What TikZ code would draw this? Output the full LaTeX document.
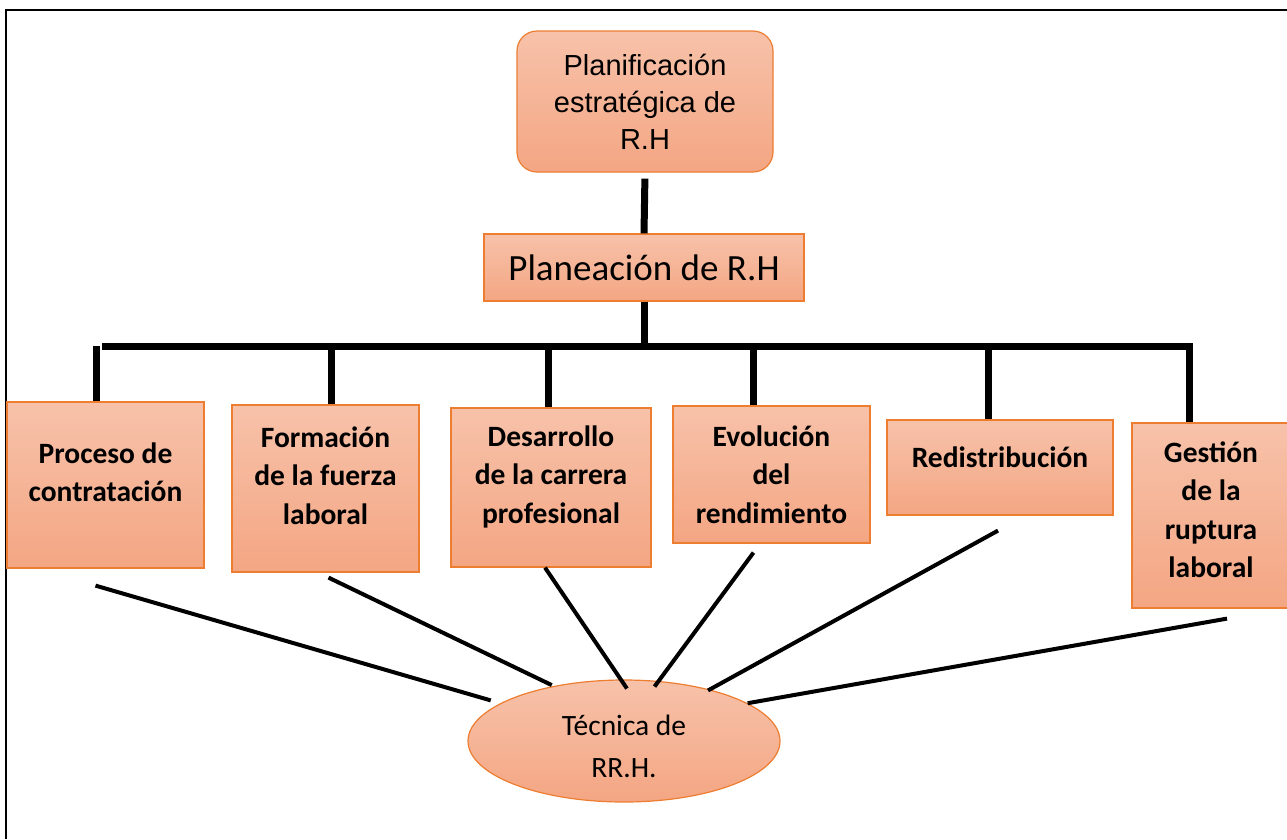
\documentclass[tikz,border=0pt]{standalone}
\usepackage{fontspec}
\setmainfont{Carlito}
\newfontfamily\arial{Liberation Sans}
\usetikzlibrary{shapes.geometric}
\definecolor{naranjaBorde}{RGB}{237,125,49}
\definecolor{naranjaClaro}{RGB}{247,194,170}
\definecolor{naranjaOscuro}{RGB}{244,166,131}
\begin{document}
\begin{tikzpicture}[x=1pt, y=-1pt, line join=miter,
	caja/.style={draw=naranjaBorde, line width=1.2pt, top color=naranjaClaro, bottom color=naranjaOscuro, align=center, inner sep=0pt},
	textoCaja/.style={font=\fontsize{29.5}{38.5}\selectfont\bfseries},
	subir/.style={text depth=#1},
	grueso/.style={line width=7pt},
	fino/.style={line width=4pt}]

	\useasboundingbox (0,0) rectangle (1287,839);
	% marco
	\draw[line width=2pt] (6,839) -- (6,10) -- (1287,10);

	% niveles superiores
	\node[caja, rounded corners=20pt, minimum width=256, minimum height=141, font=\arial\fontsize{29}{37}\selectfont] (planif) at (645,101.5) {Planificación\\estratégica de\\R.H};
	\node[caja, minimum width=320, minimum height=67, font=\fontsize{37}{40}\selectfont] (planea) at (644,267.5) {Planeación de R.H};
	\draw[grueso, shorten <=6pt] (planif.south) -- (planea.north);

	\coordinate (barraIzq) at (102,346);
	\coordinate (barraDer) at (1193,346);
	\draw[grueso] (barraIzq) -- (barraDer);
	\draw[grueso] (planea.south) -- (planea.south |- barraIzq);

	% procesos
	\node[caja, textoCaja, subir=26pt, minimum width=197, minimum height=166] (b1) at (105.5,485) {Proceso de\\contratación};
	\node[caja, textoCaja, subir=26pt, minimum width=187, minimum height=167] (b2) at (325.5,488.5) {Formación\\de la fuerza\\laboral};
	\node[caja, textoCaja, subir=26pt, minimum width=200, minimum height=159] (b3) at (551,487.5) {Desarrollo\\de la carrera\\profesional};
	\node[caja, textoCaja, minimum width=197, minimum height=137] (b4) at (771.5,474.5) {Evolución\\del\\rendimiento};
	\node[caja, textoCaja, subir=20pt, minimum width=226, minimum height=95] (b5) at (1000,467.5) {Redistribución};
	\node[caja, textoCaja, subir=12pt, minimum width=158, minimum height=185] (b6) at (1211,515.5) {Gestión\\de la\\ruptura\\laboral};

	\foreach \caja/\dx in {b1/-9, b2/6, b3/-3, b4/-18, b5/-12, b6/-22}
		\draw[grueso] ([xshift=\dx pt]\caja.north |- barraIzq) -- ([xshift=\dx pt]\caja.north);

	% tecnica
	\node[caja, ellipse, text height=74pt, minimum width=312, minimum height=122, font=\fontsize{29.5}{42}\selectfont] (tecnica) at (624,741) {Técnica de\\RR.H.};

	\foreach \caja/\dx/\dy/\ang/\corte in {b1/-10/-17/163/10, b2/3/-5/142/2, b3/-6/0/93/-11, b4/-18/-9/60/-7, b5/-2/-15/31/-2, b6/16/-10/17/0}
		\draw[fino, shorten >=\corte pt] ([xshift=\dx pt, yshift=\dy pt]\caja.south) -- (tecnica.\ang);
\end{tikzpicture}
\end{document}
